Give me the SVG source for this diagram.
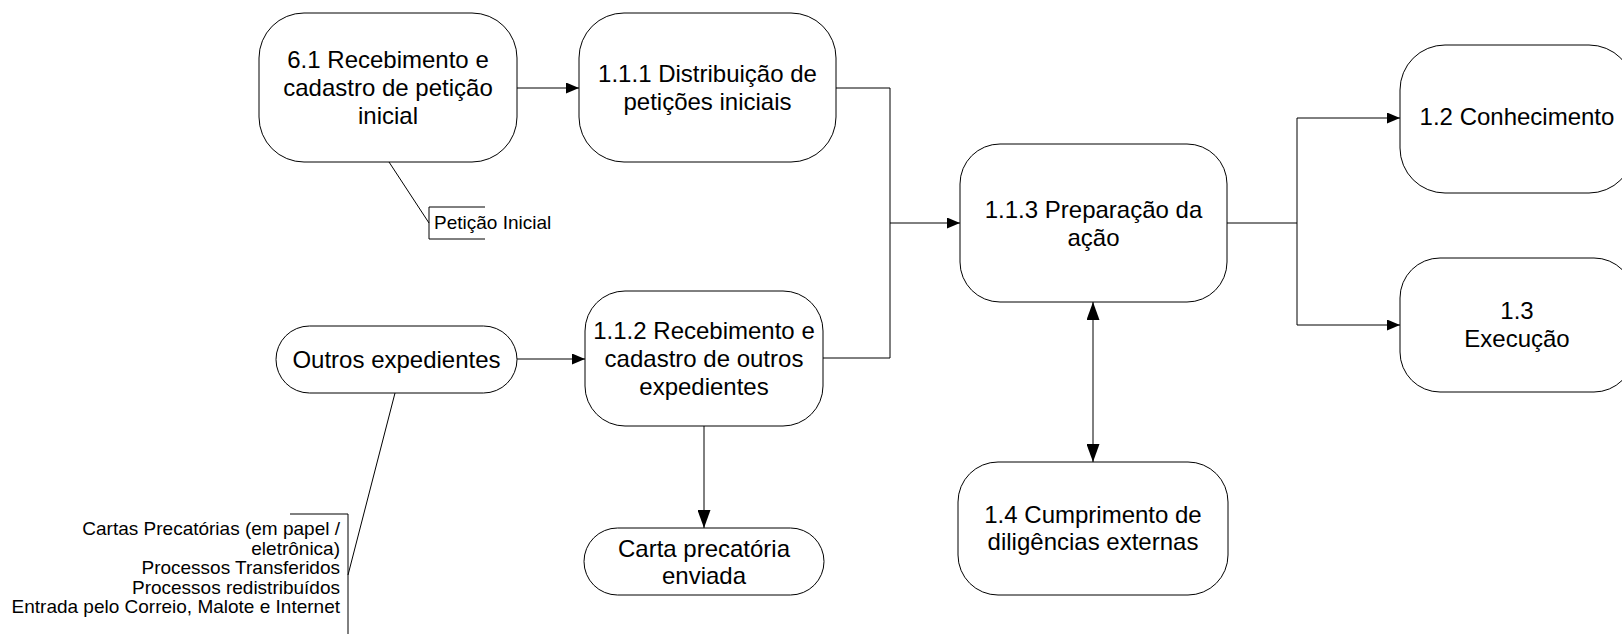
<svg xmlns="http://www.w3.org/2000/svg" width="1622" height="634" viewBox="0 0 1622 634">
<defs>
<marker id="arr" markerUnits="userSpaceOnUse" markerWidth="13" markerHeight="11" refX="13" refY="5.5" orient="auto-start-reverse">
<path d="M0,0 L13,5.5 L0,11 z" fill="#000"/>
</marker>
<marker id="arrv" markerUnits="userSpaceOnUse" markerWidth="18" markerHeight="13" refX="18" refY="6.5" orient="auto-start-reverse">
<path d="M0,0 L18,6.5 L0,13 z" fill="#000"/>
</marker>
<style>
.box{fill:#fff;stroke:#000;stroke-width:1}
.t{font-family:"Liberation Sans",Arial,sans-serif;font-size:24px;fill:#000;text-anchor:middle}
.s{font-family:"Liberation Sans",Arial,sans-serif;font-size:19px;fill:#000}
.c{fill:none;stroke:#000;stroke-width:1}
</style>
</defs>
<rect width="1622" height="634" fill="#fff"/>
<g id="connectors">
<line class="c" x1="517" y1="88" x2="579" y2="88" marker-end="url(#arr)"/>
<polyline class="c" points="836,88 890,88 890,358 823,358"/>
<line class="c" x1="890" y1="223" x2="960" y2="223" marker-end="url(#arr)"/>
<line class="c" x1="517" y1="359" x2="585" y2="359" marker-end="url(#arr)"/>
<line class="c" x1="704" y1="426" x2="704" y2="528" marker-end="url(#arrv)"/>
<line class="c" x1="1093" y1="302" x2="1093" y2="462" marker-start="url(#arrv)" marker-end="url(#arrv)"/>
<line class="c" x1="1227" y1="223" x2="1297" y2="223"/>
<line class="c" x1="1297" y1="118" x2="1297" y2="325"/>
<line class="c" x1="1297" y1="118" x2="1400" y2="118" marker-end="url(#arr)"/>
<line class="c" x1="1297" y1="325" x2="1400" y2="325" marker-end="url(#arr)"/>
<polyline class="c" points="389,162 429,223"/>
<polyline class="c" points="485,207 429,207 429,239 485,239"/>
<polyline class="c" points="395,393 348,575"/>
<polyline class="c" points="290,514 348,514 348,634"/>
</g>
<g id="n61">
<rect class="box" x="259" y="13" width="258" height="149" rx="45"/>
<text class="t" x="388" y="67.5">6.1 Recebimento e</text>
<text class="t" x="388" y="95.5">cadastro de petição</text>
<text class="t" x="388" y="123.5">inicial</text>
</g>
<g id="n111">
<rect class="box" x="579" y="13" width="257" height="149" rx="45"/>
<text class="t" x="707.5" y="82">1.1.1 Distribuição de</text>
<text class="t" x="707.5" y="110">petições iniciais</text>
</g>
<g id="nPeticao">
<text class="s" x="434" y="229">Petição Inicial</text>
</g>
<g id="nOutros">
<rect class="box" x="276" y="326" width="241" height="67" rx="33.5"/>
<text class="t" x="396.5" y="368">Outros expedientes</text>
</g>
<g id="nLista">
<text class="s" x="340" y="535" text-anchor="end">Cartas Precatórias (em papel /</text>
<text class="s" x="340" y="554.5" text-anchor="end">eletrônica)</text>
<text class="s" x="340" y="574" text-anchor="end">Processos Transferidos</text>
<text class="s" x="340" y="593.5" text-anchor="end">Processos redistribuídos</text>
<text class="s" x="340" y="613" text-anchor="end">Entrada pelo Correio, Malote e Internet</text>
</g>
<g id="n112">
<rect class="box" x="585" y="291" width="238" height="135" rx="40"/>
<text class="t" x="704" y="339">1.1.2 Recebimento e</text>
<text class="t" x="704" y="367">cadastro de outros</text>
<text class="t" x="704" y="395">expedientes</text>
</g>
<g id="nCarta">
<rect class="box" x="584" y="528" width="240" height="67" rx="33.5"/>
<text class="t" x="704" y="556.5">Carta precatória</text>
<text class="t" x="704" y="583.5">enviada</text>
</g>
<g id="n113">
<rect class="box" x="960" y="144" width="267" height="158" rx="40"/>
<text class="t" x="1093.5" y="217.5">1.1.3 Preparação da</text>
<text class="t" x="1093.5" y="245.5">ação</text>
</g>
<g id="n14">
<rect class="box" x="958" y="462" width="270" height="133" rx="40"/>
<text class="t" x="1093" y="522.5">1.4 Cumprimento de</text>
<text class="t" x="1093" y="549.5">diligências externas</text>
</g>
<g id="n12">
<rect class="box" x="1400" y="45" width="234" height="148" rx="45"/>
<text class="t" x="1517" y="125">1.2 Conhecimento</text>
</g>
<g id="n13">
<rect class="box" x="1400" y="258" width="234" height="134" rx="40"/>
<text class="t" x="1517" y="318.5">1.3</text>
<text class="t" x="1517" y="346.5">Execução</text>
</g>
</svg>
